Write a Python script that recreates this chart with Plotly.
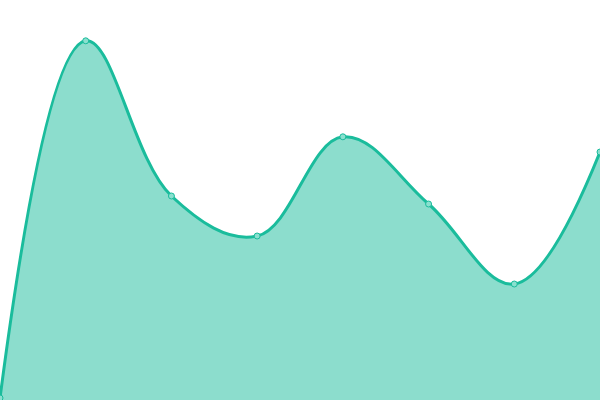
import plotly.graph_objects as go

# ========== Data ==========
x_vals = [0, 1, 2, 3, 4, 5, 6, 7]
y_vals = [0.5, 89.8, 51, 41, 65.8, 49, 29, 62]

# ========== Area chart ==========
fig = go.Figure()
fig.add_trace(go.Scatter(
    x=x_vals,
    y=y_vals,
    mode='lines+markers',
    fill='tozeroy',
    fillcolor='rgba(26,188,156,0.5)',
    line=dict(color='#1abc9c', width=3, shape='spline', smoothing=1.1),
    marker=dict(size=6, color='#8ae0cf', line=dict(color='#1abc9c', width=1)),
    cliponaxis=False,
    hoverinfo='skip'
))

fig.update_layout(
    width=600,
    height=400,
    margin=dict(t=0, b=0, l=0, r=0),
    paper_bgcolor='white',
    plot_bgcolor='white',
    showlegend=False,
    xaxis=dict(range=[0, 7], visible=False),
    yaxis=dict(range=[0, 100], visible=False)
)

# drop the default page margin so the chart sits at the window corner
fig.write_html(
    "out.html",
    config={'displayModeBar': False},
    post_script="document.body.style.margin='0';document.body.style.overflow='hidden';"
)
